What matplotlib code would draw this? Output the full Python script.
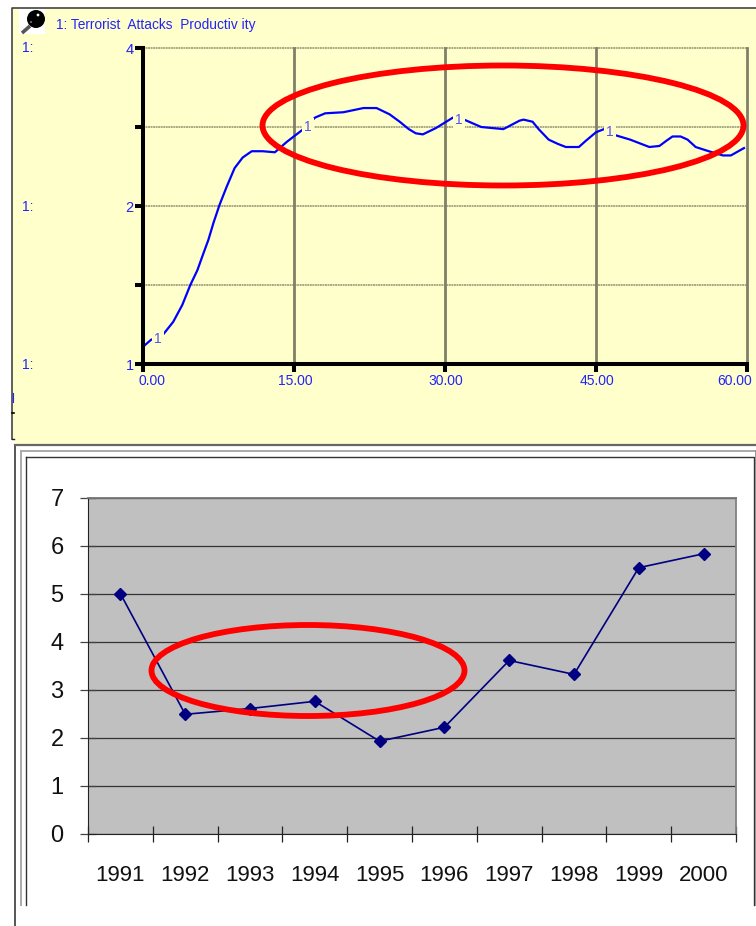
import matplotlib
matplotlib.use("Agg")
import matplotlib.pyplot as plt
from matplotlib.patches import Ellipse, Rectangle, Circle
import numpy as np

plt.rcParams['font.family'] = ['Liberation Sans', 'DejaVu Sans']

W, H = 756, 926

# top chart
sim_time = [0.2, 0.8, 2.0, 3.0, 3.9, 4.7, 5.4, 6.0, 6.5, 7.0, 7.6, 8.3, 9.1, 9.9, 10.8, 11.9, 13.1,
            14.3, 15.8, 17.1, 18.1, 19.9, 21.9, 23.2, 24.5, 25.5, 26.4, 27.1, 27.8, 29.1, 30.8,
            31.9, 33.6, 35.8, 37.4, 37.8, 38.7, 39.3, 40.3, 41.2, 42.0, 43.3, 44.0, 45.0, 45.8,
            47.0, 48.4, 50.3, 51.3, 52.0, 52.6, 53.4, 54.1, 54.9, 56.2, 57.6, 58.4, 59.7]
productivity = [1.18, 1.23, 1.28, 1.40, 1.56, 1.75, 1.89, 2.05, 2.18, 2.34, 2.51, 2.68, 2.86, 2.96,
                3.02, 3.02, 3.01, 3.11, 3.22, 3.34, 3.38, 3.39, 3.43, 3.43, 3.37, 3.30, 3.23, 3.19,
                3.18, 3.24, 3.34, 3.32, 3.25, 3.23, 3.31, 3.32, 3.30, 3.23, 3.13, 3.09, 3.06, 3.06,
                3.12, 3.20, 3.23, 3.17, 3.13, 3.06, 3.07, 3.12, 3.16, 3.16, 3.13, 3.06, 3.02, 2.98,
                2.98, 3.05]
time_ticks = [0, 15, 30, 45, 60]
time_labels = ["0.00", "15.00", "30.00", "45.00", "60.00"]
time_label_shift = [9, 1, 1, 1, -12]
prod_ticks = [1, 1.75, 2.5, 3.25, 4]
prod_labels = ["1", "", "2", "", "4"]
curve_marks_t = [1.5, 16.4, 31.4, 46.4]
curve_marks_v = [1.24, 3.25, 3.32, 3.20]

# bottom chart
years = [1991, 1992, 1993, 1994, 1995, 1996, 1997, 1998, 1999, 2000]
year_values = [5.0, 2.49, 2.61, 2.76, 1.93, 2.22, 3.61, 3.32, 5.54, 5.83]
value_ticks = [0, 1, 2, 3, 4, 5, 6, 7]

BLUE = "#2222ff"
YELLOW = "#ffffcc"


def axes_px(fig, x0, y0, x1, y1):
    # pixel box, y measured from the top of the image
    return fig.add_axes([x0 / W, 1 - y1 / H, (x1 - x0) / W, (y1 - y0) / H])


fig = plt.figure(figsize=(W / 100, H / 100), dpi=100, facecolor="white")

# page layer for frames and panel background
bg = fig.add_axes([0, 0, 1, 1], zorder=0)
bg.set_xlim(0, W)
bg.set_ylim(H, 0)
bg.axis("off")
bg.add_patch(Rectangle((12, 8), 746, 431, fc=YELLOW, ec="none"))
bg.add_patch(Rectangle((15, 439), 741, 5, fc=YELLOW, ec="none"))
bg.plot([12, 12, 756], [439, 8, 8], color="#444444", lw=1.2)
bg.plot([12, 14], [439, 439], color="#222222", lw=1.0)
bg.add_patch(Rectangle((19, 9), 26, 25, fc="white", ec="none"))
bg.add_patch(Circle((36, 19), 9, fc="black", ec="none"))
bg.add_patch(Circle((38, 15), 1.4, fc="white", ec="none"))
bg.add_patch(Circle((31, 22), 0.8, fc="#bbbbbb", ec="none"))
bg.plot([22, 30], [33, 26], color="#555555", lw=2.6, solid_capstyle="butt")
bg.plot([13, 13], [393, 402], color=BLUE, lw=0.8)
bg.plot([12, 14], [413, 413], color="black", lw=1.2)

bg.plot([15, 15], [445, 926], color="#555555", lw=1.4)
bg.plot([15, 756], [445, 445], color="#666666", lw=1.6)
bg.plot([20.5, 756], [451, 451], color="#aaaaaa", lw=1.4)
bg.plot([20.5, 20.5], [451, 905], color="#aaaaaa", lw=1.4)
bg.plot([25.5, 753.5, 753.5], [456.5, 456.5, 905], color="#333333", lw=1.0)
bg.plot([25.5, 25.5], [456.5, 905], color="#333333", lw=1.0)
bg.plot([755.5, 755.5], [451, 905], color="#888888", lw=1.2)

bg.text(56, 25.5, "1: Terrorist  Attacks  Productiv ity", color=BLUE, fontsize=9.9, va="center")
for py in [48, 207, 365]:
    bg.text(22, py, "1:", color=BLUE, fontsize=10, va="center")

# top chart
ax1 = axes_px(fig, 143, 48, 747, 364)
ax1.set_facecolor("none")
ax1.set_xlim(0, 60)
ax1.set_ylim(1, 4)
ax1.plot(sim_time, productivity, color="#0000ff", lw=1.6, zorder=3, clip_on=False)
for t, v in zip(curve_marks_t, curve_marks_v):
    ax1.text(t, v, "1", color="#5555ee", fontsize=10, ha="center", va="center", zorder=4,
             bbox=dict(fc=YELLOW, ec="none", pad=1.5))
ax1.set_xticks(time_ticks)
ax1.set_xticklabels([])
for t, lab, dx in zip(time_ticks, time_labels, time_label_shift):
    ax1.annotate(lab, (t, 1), xytext=(dx * 0.72, -12.2), textcoords="offset points",
                 color=BLUE, fontsize=10, ha="center", va="center", annotation_clip=False)
ax1.set_yticks(prod_ticks)
ax1.set_yticklabels(prod_labels, color=BLUE, fontsize=10.5)
ax1.tick_params(axis="y", length=5.8, width=2.9, color="black", pad=1)
ax1.tick_params(axis="x", length=5.8, width=2.9, color="black")
ax1.grid(False)
for v in prod_ticks[1:]:
    ax1.axhline(v, color="#a8a884", lw=1.4, ls=(0, (1, 0.3)), zorder=1, clip_on=False)
for t in time_ticks[1:]:
    ax1.axvline(t, color="#808068", lw=2.0, zorder=1, clip_on=False)
for s in ["top", "right"]:
    ax1.spines[s].set_visible(False)
for s in ["left", "bottom"]:
    ax1.spines[s].set_linewidth(2.9)
    ax1.spines[s].set_color("black")
    ax1.spines[s].set_zorder(5)

# bottom chart
ax2 = axes_px(fig, 88, 497.5, 736, 834)
ax2.set_facecolor("#c0c0c0")
x = np.arange(len(years))
ax2.set_xlim(-0.5, len(years) - 0.5)
ax2.set_ylim(0, 7)
ax2.plot(x, year_values, color="#000080", lw=1.2, marker="D", ms=6, clip_on=False, zorder=3)
ax2.set_yticks(value_ticks)
ax2.set_yticklabels(value_ticks, fontsize=17, color="#111111")
ax2.set_xticks(x)
ax2.set_xticklabels(years, fontsize=16, color="#111111")
ax2.set_xticks(np.arange(-0.5, len(years)), minor=True)
ax2.tick_params(axis="x", which="major", length=0, pad=22.5)
ax2.tick_params(axis="x", which="minor", length=11, width=0.9, direction="inout", color="#222222")
ax2.tick_params(axis="y", length=12, width=0.9, direction="inout", color="#444444", pad=11.5)
ax2.grid(axis="y", color="#333333", lw=0.9)
ax2.set_axisbelow(True)
ax2.spines["top"].set_color("#777777")
ax2.spines["right"].set_color("#808080")
ax2.spines["top"].set_linewidth(1.3)
ax2.spines["right"].set_linewidth(1.3)
ax2.spines["left"].set_color("#222222")
ax2.spines["bottom"].set_color("#222222")

# red annotation ellipses over everything
over = fig.add_axes([0, 0, 1, 1], zorder=5)
over.set_xlim(0, W)
over.set_ylim(H, 0)
over.axis("off")
over.add_patch(Ellipse((503, 125.5), 481, 120, fc="none", ec="#ff0000", lw=4.2))
over.add_patch(Ellipse((308, 670.5), 313, 91, fc="none", ec="#ff0000", lw=4.2))

fig.savefig("out.png", dpi=100)
